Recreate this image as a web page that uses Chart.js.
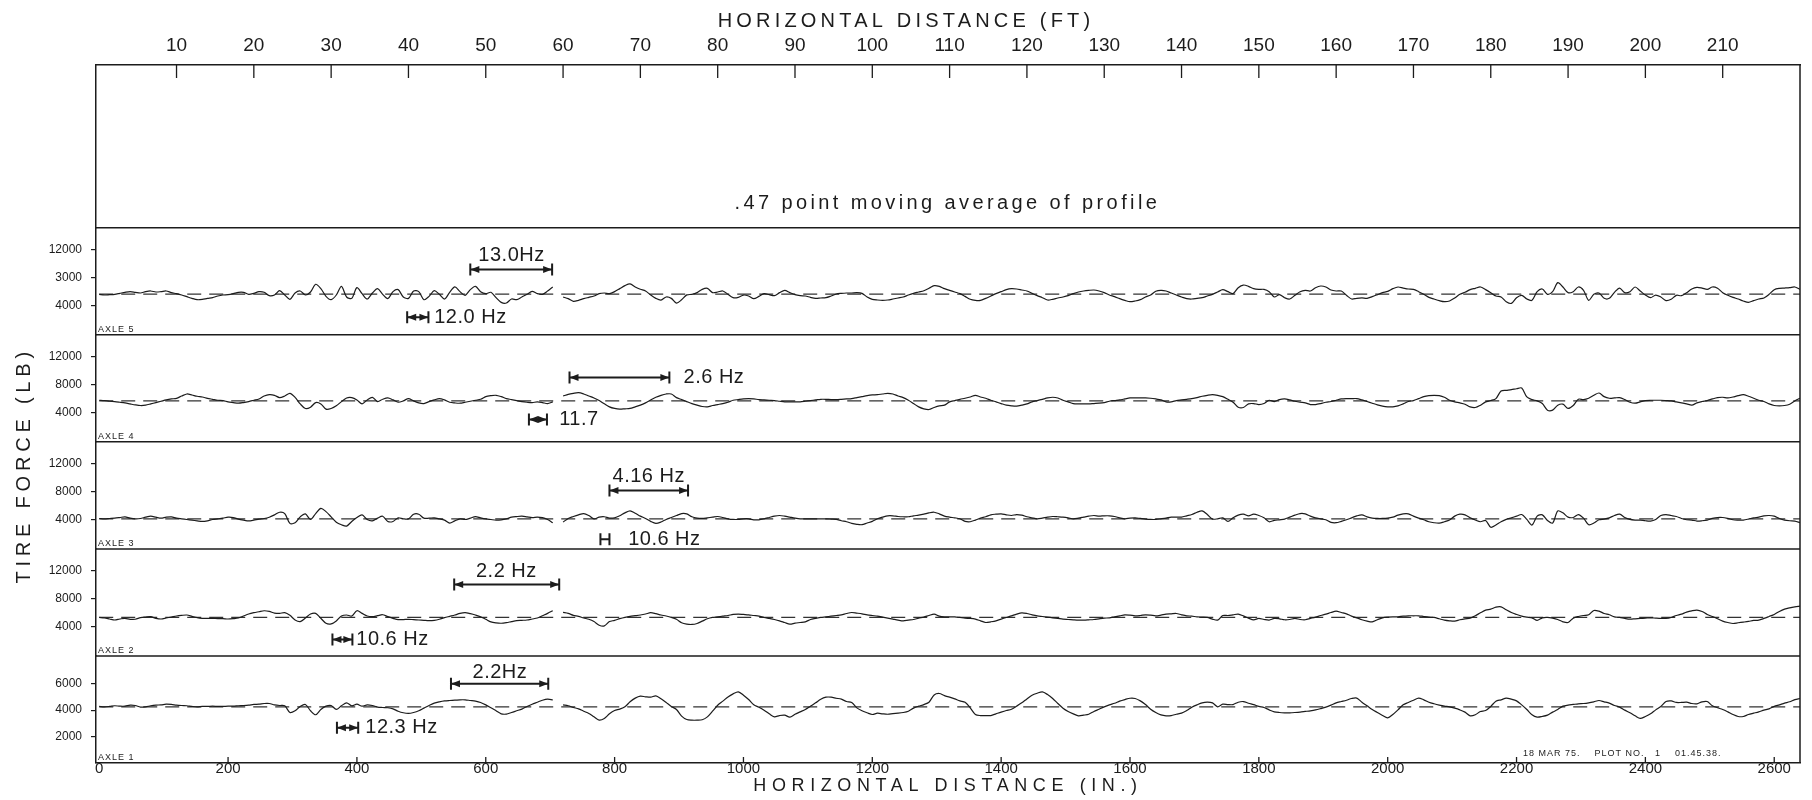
<!DOCTYPE html>
<html>
<head>
<meta charset="utf-8">
<script src="https://cdn.jsdelivr.net/npm/chart.js@4.4.0/dist/chart.umd.min.js"></script>
<style>
    html, body { margin: 0; padding: 0; background: #fff; }
</style>
</head>
<body>
<canvas id="grafico" width="1812" height="800"></canvas>
<script>
// distancia em polegadas, uma amostra a cada 8 in
var passo = 8
var distancia = []
for (let i = 0; i <= 330; i++) {
    distancia.push(i * passo)
}

// forca no pneu (lb), eixo 1 a 5
var eixo5 = [
    5580,5485,5530,5580,5725,5870,5965,5870,5770,5965,
    6060,5915,5965,6060,5820,5675,5485,5245,5005,4815,
    4860,5005,5100,5340,5485,5530,5675,5870,5870,5580,
    5725,5965,5870,5390,5485,6110,5485,4860,5770,6060,
    5485,5915,7020,6395,5295,4815,5485,6730,5200,5005,
    6540,5675,4910,5770,6395,5580,4960,5965,6250,5200,
    5005,6060,5965,4815,5295,6110,5580,4910,5870,6635,
    5965,5435,6250,6730,5965,5675,5870,5100,4430,4335,
    4910,4815,5200,5580,6010,5675,5580,6060,6635,null,
    5200,4960,4575,4720,4960,5150,5340,5675,5770,5675,
    5965,6395,6825,7065,6635,6300,6060,5485,5005,4765,
    5200,5005,4335,4800,5500,5580,5820,6290,6440,5820,
    5910,6060,5580,5100,5150,5480,5340,4960,5290,5680,
    5530,5390,5820,6150,5820,5530,5390,5340,5150,5010,
    5060,5100,5340,5630,5720,5770,5770,5820,5720,5200,
    4870,4770,4720,4770,4910,5060,5200,5480,5720,5910,
    6100,6440,6820,6720,6390,6150,5910,5680,5290,4870,
    4720,4720,5010,5340,5680,5960,6250,6390,6340,6200,
    6060,5720,5390,5100,4770,4870,5060,5200,5390,5680,
    5910,6060,6150,6200,6060,5820,5480,5250,4960,4720,
    4530,4630,4820,5200,5480,6010,6150,6060,5770,5480,
    5200,4960,4910,5010,5100,5340,5580,5910,6250,5960,
    5680,6530,6910,6720,6390,6290,6290,5960,5200,5530,
    5100,4910,5440,5960,6150,6060,6530,6770,6630,6200,
    6060,6060,5440,4910,5010,5060,5010,5250,5530,5820,
    6010,6390,6630,6480,6340,6290,5960,5580,5150,4910,
    4680,4530,4630,5060,5580,5870,6250,6440,6630,6250,
    5820,5340,5200,4530,4290,5100,5440,4910,4720,5960,
    6340,5580,5960,7250,6630,5820,5960,6630,6150,4720,
    5580,5770,5010,5010,5870,6480,5820,5960,6630,6060,
    5480,5100,5480,5200,4680,4870,5440,5390,5820,6340,
    6580,6480,6290,6630,6440,5820,5440,5150,4910,4630,
    4440,4680,4910,5060,5580,6250,6440,6480,6530,6630,6290
]

var eixo4 = [
    5740,5690,5600,5550,5460,5360,5220,5080,4990,5040,
    5220,5410,5600,5790,5930,6020,6350,6640,6490,6310,
    6210,6020,5880,5740,5690,5510,5410,5320,5410,5550,
    5740,5930,6350,6540,6450,6120,6350,6730,6160,5220,
    4560,4750,5410,5220,4470,4560,4940,5550,6070,6120,
    5790,5220,5790,6160,5550,5880,6070,5790,5460,5650,
    5980,5650,5360,5270,5550,5790,5980,5790,5460,5360,
    5320,5460,5600,5740,5880,6260,6400,6450,6260,5980,
    5840,5690,5550,5460,5410,5510,5410,5270,5510,null,
    6350,6590,6730,6820,6640,6350,6070,5700,5230,4800,
    4570,4470,4520,4570,4800,5040,5370,5790,6170,6450,
    6640,6640,6120,5840,5550,5270,5040,4850,4800,4990,
    5130,5270,5460,5740,5840,5930,5980,5930,5840,5790,
    5740,5700,5600,5510,5510,5510,5510,5600,5700,5790,
    5880,5880,5840,5840,5880,5930,5980,6120,6260,6400,
    6500,6540,6640,6730,6640,6350,6120,5740,5270,4800,
    4520,4420,4710,4940,5040,5510,5700,5880,6030,6210,
    6450,6210,6030,5740,5510,5270,5040,4940,4900,5040,
    5220,5510,5700,5880,6070,6170,6070,5740,5510,5270,
    5220,5220,5220,5270,5320,5410,5600,5700,5790,5930,
    6070,6070,6070,6070,6030,5930,5790,5510,5510,5700,
    5790,5880,5980,6120,6310,6450,6540,6450,6260,5880,
    5460,4750,4710,5230,5270,5130,5270,5740,5560,5840,
    5930,5790,5600,5460,5370,5130,5130,5270,5460,5560,
    5740,5930,5980,5980,5980,5790,5560,5320,5090,4900,
    4800,4800,4940,5230,5560,5700,5980,6260,6400,6450,
    6400,6170,5740,5510,5370,5180,4800,4710,5040,5510,
    5700,5980,7060,7160,7250,7390,7490,6220,5840,5650,
    5270,4330,4330,5040,5180,4570,4990,5890,5840,6030,
    6450,6780,6260,6030,6070,6120,5840,5460,5320,5510,
    5700,5740,5740,5740,5700,5650,5510,5370,5230,5040,
    5370,5560,5700,5930,6120,6170,6070,6210,6400,6540,
    6310,6030,5740,5560,5230,4990,4940,4990,5180,5650,6030
]

var eixo3 = [
    4140,4090,4140,4190,4280,4380,4190,4090,4140,4330,
    4470,4330,4190,4330,4380,4190,4090,4000,3910,3810,
    3720,3810,4000,4090,4190,4330,4280,4050,3910,3810,
    3910,4050,4140,4330,4660,5040,4850,3440,3530,4380,
    4800,4000,4850,5600,5130,4380,3620,3250,3060,3720,
    4280,4660,4000,3810,4190,4470,3720,3720,4240,4090,
    4090,4750,4750,4190,4190,4240,4090,3910,3480,3810,
    4090,4000,4190,4420,4240,4090,4000,3910,3950,4090,
    4330,4420,4470,4380,4280,4330,4280,4000,3530,null,
    3640,4150,4430,4670,4850,4570,4100,4340,4390,4200,
    4240,4530,4950,5230,4900,4480,4150,3730,3450,3640,
    4010,4290,4570,4850,4810,4390,4200,4150,4240,4340,
    4430,4290,4100,4010,4010,4100,4100,3960,3960,4100,
    4290,4480,4570,4480,4340,4200,4100,4100,4100,4100,
    4100,4100,4060,4010,3820,3680,3450,3310,3260,3500,
    3730,4100,4340,4530,4530,4430,4390,4390,4530,4620,
    4760,4950,5040,4810,4480,4340,4240,4100,3730,3680,
    3920,4200,4390,4670,4760,4810,4670,4570,4710,4620,
    4390,4240,4100,4200,4340,4430,4390,4340,4240,4100,
    4200,4340,4480,4570,4480,4530,4530,4430,4240,4100,
    4200,4240,4150,4060,4010,4010,4100,4200,4340,4340,
    4340,4530,4710,5040,5230,4710,4060,4100,4240,3730,
    4240,4620,4760,4520,4760,4570,4240,3680,3870,3960,
    4060,4340,4620,4850,4810,4480,4240,4100,3960,3590,
    3540,3730,3960,4240,4520,4660,4380,4200,4150,4150,
    4200,4340,4620,4810,4810,4480,4200,3960,3680,3540,
    3490,3680,3920,4480,4760,4670,4240,3920,3680,3870,
    2890,3210,3680,4010,4240,4480,4710,4010,3210,4480,
    4660,3870,3490,5230,4950,4340,4290,4710,4200,3260,
    3490,3960,4060,4240,4570,4760,4290,4010,3920,3920,
    3820,3780,4010,4570,4710,4570,4430,4150,3960,3920,
    3780,3820,3920,4150,4290,4290,4150,3960,3920,3920,
    4060,4240,4340,4520,4570,4480,4150,3920,3820,3780,3540
]

var eixo2 = [
    5320,5220,5080,4940,5080,5180,5040,5040,5270,5360,
    5410,5180,5080,5220,5360,5510,5600,5650,5460,5270,
    5180,5180,5180,5130,5130,5080,5130,5220,5510,5790,
    5980,6120,6260,6170,5930,5880,5980,5600,4940,4710,
    5220,5790,5880,5180,4470,4380,4800,5510,5650,5510,
    6260,5880,5510,5410,5550,5690,5410,5180,4990,4990,
    5040,4990,4940,4890,4850,4890,5040,5270,5460,5650,
    5880,5980,5840,5650,5410,5040,4660,4520,4470,4560,
    4710,4850,4890,4940,5080,5220,5550,5880,6260,null,
    6020,5880,5600,5460,5220,5040,4710,4190,4090,4710,
    4890,5130,5320,5460,5550,5650,5790,5980,5840,5650,
    5510,5320,5040,4550,4350,4300,4440,4770,5110,5300,
    5390,5490,5580,5730,5780,5730,5680,5580,5490,5300,
    5160,5010,4820,4580,4350,4490,4580,4680,5010,5160,
    5300,5390,5490,5580,5680,5870,6010,5920,5820,5680,
    5580,5490,5350,5200,5060,4920,4820,4920,5010,5200,
    5350,5580,5780,5490,5390,5390,5390,5300,5200,5160,
    5060,4820,4580,4680,4820,5060,5300,5530,5780,5960,
    5870,5680,5530,5440,5350,5250,5160,5060,5010,4960,
    4920,4920,4960,5010,5110,5200,5250,5390,5530,5680,
    5630,5530,5580,5680,5630,5530,5630,5780,5820,5870,
    5680,5530,5490,5390,5350,5300,5060,4920,5580,5580,
    5680,5780,5530,5200,4960,5160,5010,4920,5160,5110,
    4970,5010,5160,5010,4970,5160,5350,5580,5770,6010,
    6200,6010,5820,5490,5250,4970,4780,4680,4970,5250,
    5350,5390,5390,5490,5540,5540,5540,5440,5350,5300,
    5110,4920,4820,4780,4970,5110,5200,5540,5970,6350,
    6490,6780,6820,6400,6010,5730,5490,5350,5250,4870,
    5250,5300,5200,5010,4680,4580,5200,5440,5580,5680,
    6300,6200,5870,5680,5390,5300,5160,5060,5110,5160,
    5200,5250,5200,5160,5160,5300,5580,5770,6060,6250,
    6350,6160,5730,5440,5110,4780,4580,4440,4540,4630,
    4730,4870,4920,5160,5440,5730,6160,6490,6680,6820,6920
]

var eixo1 = [
    4280,4250,4280,4330,4300,4300,4380,4350,4230,4250,
    4330,4380,4400,4450,4430,4380,4350,4330,4280,4250,
    4280,4280,4300,4280,4280,4300,4300,4330,4350,4380,
    4430,4450,4500,4500,4400,4350,4330,3820,3950,4280,
    4430,3950,3650,4050,4300,4350,4050,4330,4550,4330,
    4450,4300,4400,4350,4230,4200,4180,4100,3920,3800,
    3750,3820,3950,4150,4350,4530,4630,4700,4730,4750,
    4780,4780,4730,4680,4580,4400,4180,3950,3720,3700,
    3820,3950,4080,4280,4450,4600,4750,4830,4780,null,
    4400,4330,4200,4100,3920,3750,3500,3250,3370,3720,
    3970,4080,4250,4630,4910,5060,5010,4980,5080,4860,
    4580,4280,4050,3550,3290,3240,3240,3270,3490,3920,
    4370,4680,5000,5230,5380,5130,4800,4400,4220,4000,
    3720,3490,3590,3620,3470,3690,3870,4050,4300,4550,
    4830,4980,4980,4900,4830,4650,4580,4170,3950,3800,
    3670,3770,3720,3690,3740,3770,3820,3920,4150,4300,
    4420,4600,5150,5260,5100,4980,4850,4700,4600,4170,
    3670,3590,3590,3590,3720,3850,3970,4070,4300,4550,
    4850,5130,5280,5380,5180,4880,4500,4150,3900,3720,
    3570,3620,3690,3900,4070,4250,4400,4520,4680,4800,
    4900,4880,4700,4420,4070,3820,3640,3570,3590,3690,
    3770,3970,4220,4400,4550,4600,4550,4250,4450,4420,
    4420,4600,4650,4520,4420,4280,4200,4020,3870,3820,
    3800,3800,3820,3850,3900,3950,4020,4120,4230,4380,
    4550,4650,4750,4880,4910,4600,4330,4050,3820,3600,
    3420,3670,4020,4400,4580,4750,4910,4780,4600,4480,
    4380,4300,4250,4150,4020,3850,3570,3650,3900,3970,
    4280,4680,4780,4910,4830,4700,4400,4050,3650,3470,
    3520,3620,3850,4050,4300,4380,4430,4480,4500,4550,
    4630,4730,4630,4530,4350,4230,4000,3800,3570,3370,
    3520,3720,4020,4280,4650,4700,4580,4580,4600,4500,
    4480,4630,4650,4330,4180,4050,3870,3670,3520,3520,
    3670,3770,3870,4000,4100,4280,4400,4530,4630,4800,4880
]

// linha tracejada = forca media de cada eixo (1 a 5)
var medias = [4250, 5300, 4100, 5650, 5600]

// marcas dos eixos
var ticksPol = [0, 200, 400, 600, 800, 1000, 1200, 1400, 1600, 1800, 2000, 2200, 2400, 2600]
var ticksPes = [10, 20, 30, 40, 50, 60, 70, 80, 90, 100, 110, 120, 130, 140, 150, 160, 170, 180, 190, 200, 210]
var ticksForca = [4000, 8000, 12000]
var rotulosForca = ['4000', '8000', '12000']
var rotulosEixo5 = ['4000', '3000', '12000']
var ticksEixo1 = [2000, 4000, 6000]
var rotulosEixo1 = ['2000', '4000', '6000']
var nomesEixos = ['AXLE 1', 'AXLE 2', 'AXLE 3', 'AXLE 4', 'AXLE 5']

// marcacoes de frequencia (distancias em in, forca em lb)
var notasFreq = [
    { eixo: 'y5', de: 576, ate: 703, nivel: 9140, texto: '13.0Hz', tx: 640, ty: 11100, alinha: 'center', setas: true },
    { eixo: 'y5', de: 478, ate: 511, nivel: 2290, texto: '12.0 Hz', tx: 520, ty: 2290, alinha: 'left', setas: true },
    { eixo: 'y4', de: 730, ate: 885, nivel: 9000, texto: '2.6 Hz', tx: 907, ty: 9000, alinha: 'left', setas: true },
    { eixo: 'y4', de: 667, ate: 695, nivel: 3000, texto: '11.7', tx: 714, ty: 3000, alinha: 'left', setas: true },
    { eixo: 'y3', de: 792, ate: 914, nivel: 8140, texto: '4.16 Hz', tx: 853, ty: 10200, alinha: 'center', setas: true },
    { eixo: 'y3', de: 778, ate: 792, nivel: 1180, texto: '10.6 Hz', tx: 821, ty: 1180, alinha: 'left', setas: false },
    { eixo: 'y2', de: 551, ate: 714, nivel: 10000, texto: '2.2 Hz', tx: 632, ty: 11900, alinha: 'center', setas: true },
    { eixo: 'y2', de: 362, ate: 393, nivel: 2140, texto: '10.6 Hz', tx: 399, ty: 2140, alinha: 'left', setas: true },
    { eixo: 'y1', de: 546, ate: 697, nivel: 6000, texto: '2.2Hz', tx: 622, ty: 6850, alinha: 'center', setas: true },
    { eixo: 'y1', de: 369, ate: 402, nivel: 2670, texto: '12.3 Hz', tx: 413, ty: 2670, alinha: 'left', setas: true }
]

var cor = '#1c1c1c'
var fonte = 'Liberation Sans'

function eixoPainel(min, max, marcas, rotulos, peso) {
    let eixo = {
        type: 'linear',
        position: 'left',
        stack: 'paineis',
        stackWeight: peso,
        min: min,
        max: max,
        grid: { display: marcas != null, drawOnChartArea: false, drawTicks: true, tickLength: 5, color: cor, lineWidth: 1.2 },
        border: { display: true, color: cor, width: 1.5 },
        ticks: {
            display: marcas != null,
            padding: 9,
            color: cor,
            autoSkip: false,
            font: { family: fonte, size: 12 },
            callback: (v, i) => rotulos ? rotulos[i] : ''
        },
        afterFit: (s) => { s.width = 96 }
    }
    if (marcas) {
        eixo.afterBuildTicks = (s) => { s.ticks = marcas.map(v => ({ value: v })) }
    }
    return eixo
}

function serie(dados, eixo) {
    return {
        data: dados,
        xAxisID: 'x',
        yAxisID: eixo,
        borderColor: cor,
        borderWidth: 1.2,
        pointRadius: 0,
        tension: 0.3,
        spanGaps: false
    }
}

function media(valor, eixo) {
    return {
        data: [{ x: 0, y: valor }, { x: 2640, y: valor }],
        xAxisID: 'x',
        yAxisID: eixo,
        borderColor: '#333',
        borderWidth: 1.3,
        borderDash: [14, 8],
        pointRadius: 0
    }
}

function espacarTitulo(escala, espaco, dx, dy) {
    if (escala._espacado) return
    const original = escala.drawTitle
    escala.drawTitle = function () {
        this.ctx.save()
        this.ctx.letterSpacing = espaco + 'px'
        this.ctx.translate(dx, dy)
        original.call(this)
        this.ctx.restore()
    }
    escala._espacado = true
}

function seta(ctx, px, py, dir) {
    ctx.beginPath()
    ctx.moveTo(px, py)
    ctx.lineTo(px + dir * 9, py - 3.5)
    ctx.lineTo(px + dir * 9, py + 3.5)
    ctx.closePath()
    ctx.fill()
}

const ajusteTitulos = {
    id: 'ajusteTitulos',
    beforeDraw(chart) {
        espacarTitulo(chart.scales.x2, 4.2, -42, 0)
        espacarTitulo(chart.scales.x, 5.6, 0, 0)
        espacarTitulo(chart.scales.y3, 4.8, 0, -30)
    }
}

// moldura, separadores dos paineis e marcas internas
const moldura = {
    id: 'moldura',
    afterDraw(chart) {
        const ctx = chart.ctx
        const area = chart.chartArea
        ctx.save()
        ctx.strokeStyle = cor
        ctx.lineWidth = 1.5
        ctx.beginPath()
        ctx.moveTo(area.right, area.top)
        ctx.lineTo(area.right, area.bottom)
        ;['y1', 'y2', 'y3', 'y4', 'y5'].forEach(id => {
            const s = chart.scales[id]
            ctx.moveTo(area.left, s.top)
            ctx.lineTo(area.right, s.top)
        })
        ctx.stroke()

        ctx.lineWidth = 1.3
        ctx.beginPath()
        const x2 = chart.scales.x2
        x2.ticks.forEach(t => {
            const px = x2.getPixelForValue(t.value)
            ctx.moveTo(px, area.top)
            ctx.lineTo(px, area.top + 13)
        })
        const x = chart.scales.x
        x.ticks.forEach(t => {
            if (t.value <= 0) return
            const px = x.getPixelForValue(t.value)
            ctx.moveTo(px, area.bottom)
            ctx.lineTo(px, area.bottom - 6)
        })
        ctx.stroke()
        ctx.restore()
    }
}

// textos e setas de frequencia
const anotacoes = {
    id: 'anotacoes',
    afterDatasetsDraw(chart) {
        const ctx = chart.ctx
        const x = chart.scales.x
        ctx.save()
        ctx.strokeStyle = cor
        ctx.fillStyle = cor

        notasFreq.forEach(n => {
            const y = chart.scales[n.eixo]
            const x1 = x.getPixelForValue(n.de)
            const x2 = x.getPixelForValue(n.ate)
            const py = y.getPixelForValue(n.nivel)
            ctx.lineWidth = 2
            ctx.beginPath()
            ctx.moveTo(x1, py); ctx.lineTo(x2, py)
            ctx.moveTo(x1, py - 6); ctx.lineTo(x1, py + 6)
            ctx.moveTo(x2, py - 6); ctx.lineTo(x2, py + 6)
            ctx.stroke()
            if (n.setas) {
                seta(ctx, x1, py, 1)
                seta(ctx, x2, py, -1)
            }
            ctx.font = '20px "' + fonte + '"'
            ctx.letterSpacing = '0.5px'
            ctx.textAlign = n.alinha
            ctx.textBaseline = 'middle'
            ctx.fillText(n.texto, x.getPixelForValue(n.tx), y.getPixelForValue(n.ty))
        })

        // texto do painel de cima
        ctx.font = '20px "' + fonte + '"'
        ctx.letterSpacing = '3.4px'
        ctx.textAlign = 'left'
        ctx.textBaseline = 'middle'
        ctx.fillText('.47 point moving average of profile', x.getPixelForValue(986), chart.scales.yTopo.getPixelForValue(0.15))

        // nome de cada eixo no canto do painel
        ctx.font = '9px "' + fonte + '"'
        ctx.letterSpacing = '1px'
        ctx.textBaseline = 'bottom'
        nomesEixos.forEach((nome, i) => {
            const s = chart.scales['y' + (i + 1)]
            ctx.fillText(nome, chart.chartArea.left + 2, s.bottom - 1)
        })

        ctx.fillText('18 MAR 75.    PLOT NO.   1    01.45.38.', x.getPixelForValue(2210), chart.scales.y1.getPixelForValue(377))
        ctx.restore()
    }
}

Chart.defaults.font.family = fonte

const grafico = new Chart(document.getElementById('grafico'), {
    type: 'line',
    data: {
        labels: distancia,
        datasets: [
            serie(eixo1, 'y1'), serie(eixo2, 'y2'), serie(eixo3, 'y3'), serie(eixo4, 'y4'), serie(eixo5, 'y5'),
            media(medias[0], 'y1'), media(medias[1], 'y2'), media(medias[2], 'y3'), media(medias[3], 'y4'), media(medias[4], 'y5')
        ]
    },
    options: {
        responsive: false,
        devicePixelRatio: 1,
        animation: false,
        layout: { padding: { left: 0, right: 12, top: 0, bottom: 0 } },
        plugins: {
            legend: { display: false },
            tooltip: { enabled: false }
        },
        scales: {
            x: {
                type: 'linear',
                position: 'bottom',
                min: -5,
                max: 2640,
                grid: { display: false, drawTicks: false },
                border: { display: true, color: cor, width: 1.5 },
                ticks: {
                    padding: -3,
                    color: cor,
                    autoSkip: false,
                    maxRotation: 0,
                    font: { family: fonte, size: 15 },
                    callback: v => String(v)
                },
                afterBuildTicks: (s) => { s.ticks = ticksPol.map(v => ({ value: v })) },
                afterFit: (s) => { s.height = 37 },
                title: {
                    display: true,
                    text: 'HORIZONTAL DISTANCE (IN.)',
                    color: cor,
                    font: { family: fonte, size: 18 },
                    padding: { top: 0, bottom: 3 }
                }
            },
            x2: {
                type: 'linear',
                position: 'top',
                min: -5 / 12,
                max: 220,
                grid: { display: false, drawTicks: false },
                border: { display: true, color: cor, width: 1.5 },
                ticks: {
                    padding: 8,
                    color: cor,
                    autoSkip: false,
                    maxRotation: 0,
                    font: { family: fonte, size: 19 },
                    callback: v => String(v)
                },
                afterBuildTicks: (s) => { s.ticks = ticksPes.map(v => ({ value: v })) },
                afterFit: (s) => { s.height = 65 },
                title: {
                    display: true,
                    text: 'HORIZONTAL DISTANCE (FT)',
                    color: cor,
                    font: { family: fonte, size: 20 },
                    padding: { top: 9, bottom: 0 }
                }
            },
            // definidos de baixo para cima: o ultimo fica no topo da pilha
            y1: eixoPainel(0, 8100, ticksEixo1, rotulosEixo1, 1),
            y2: eixoPainel(-200, 15100, ticksForca, rotulosForca, 1),
            y3: Object.assign(eixoPainel(-200, 15100, ticksForca, rotulosForca, 1), {
                title: {
                    display: true,
                    text: 'TIRE FORCE (LB)',
                    color: cor,
                    font: { family: fonte, size: 20 },
                    padding: { top: 12, bottom: 0 }
                }
            }),
            y4: eixoPainel(-200, 15100, ticksForca, rotulosForca, 1),
            y5: eixoPainel(-200, 15100, ticksForca, rotulosEixo5, 1),
            yTopo: eixoPainel(0, 1, null, null, 1.52)
        }
    },
    plugins: [ajusteTitulos, moldura, anotacoes]
})
</script>
</body>
</html>
